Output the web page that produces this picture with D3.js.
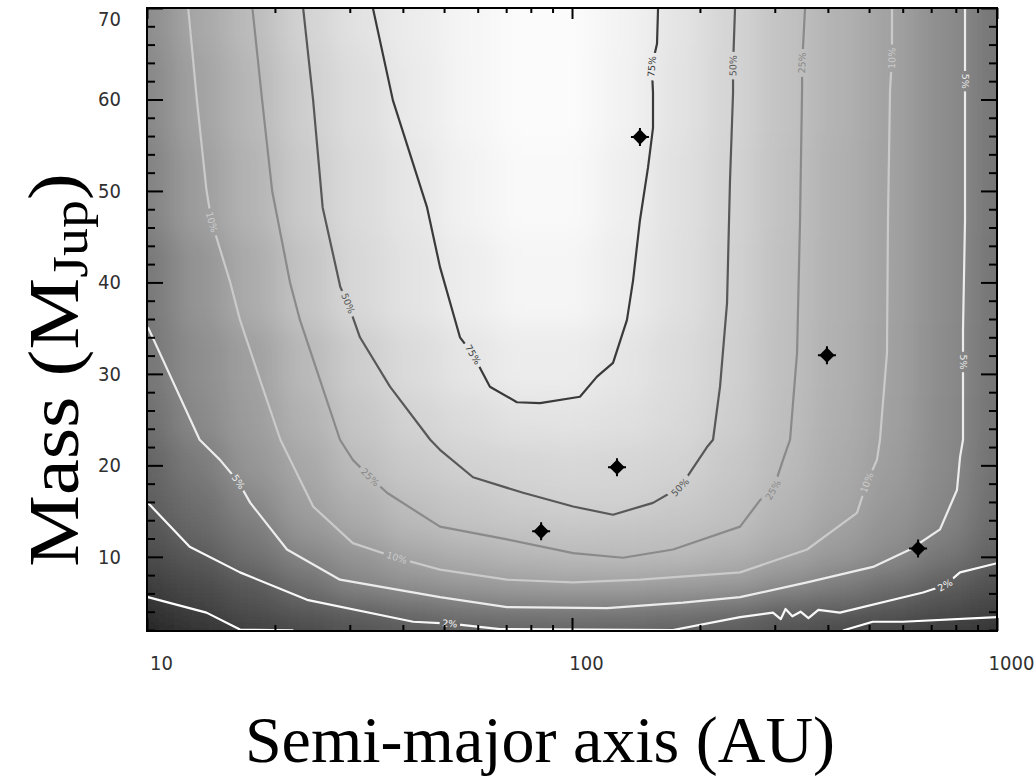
<!DOCTYPE html>
<html>
<head>
<meta charset="utf-8">
<script src="https://cdn.jsdelivr.net/npm/d3@7"></script>
<style>
body { margin: 0; background: #fff; }
</style>
</head>
<body>
<div id="chart"></div>
<script>
// grid nodes of the grey probability map (semi-major axis in AU, mass in MJup)
var gridAU = [10, 13.3, 17.8, 23.7, 31.6, 42.2, 56.2, 75, 100, 133, 178, 237, 316, 422, 562, 750, 1000];
var gridMass = [70, 60, 50, 40, 30, 25, 20, 16, 13, 10, 7, 4, 2];

// grey level (0-255) read at each node, one row per mass
var gridGray = [
	[140, 167, 188, 211, 226, 236, 245, 251, 251, 243, 228, 212, 194, 178, 162, 141, 118],
	[135, 163, 184, 207, 222, 234, 245, 251, 251, 242, 227, 212, 194, 178, 162, 141, 118],
	[130, 158, 180, 203, 219, 230, 242, 249, 249, 239, 225, 211, 193, 177, 162, 141, 118],
	[120, 148, 172, 196, 216, 227, 237, 245, 245, 236, 224, 210, 192, 177, 162, 141, 117],
	[118, 142, 160, 185, 205, 219, 229, 236, 236, 229, 220, 208, 191, 176, 161, 140, 116],
	[110, 137, 157, 178, 198, 211, 220, 226, 227, 224, 217, 206, 190, 175, 160, 139, 115],
	[100, 124, 150, 168, 189, 202, 210, 214, 216, 214, 211, 200, 187, 172, 157, 138, 113],
	[95, 112, 136, 160, 177, 191, 200, 206, 209, 209, 203, 195, 182, 168, 152, 135, 110],
	[85, 103, 124, 150, 167, 183, 192, 196, 198, 196, 194, 189, 176, 161, 146, 130, 105],
	[75, 90, 112, 133, 148, 164, 175, 182, 186, 187, 185, 177, 165, 152, 138, 118, 97],
	[62, 75, 90, 112, 134, 145, 153, 158, 161, 161, 158, 154, 140, 126, 110, 94, 80],
	[48, 64, 80, 90, 98, 108, 118, 122, 122, 122, 118, 110, 97, 94, 88, 78, 66],
	[38, 48, 62, 72, 82, 90, 95, 97, 98, 97, 94, 90, 82, 70, 64, 58, 50]
];

// contour lines, [AU, MJup]
var c75 = [[34.0, 70], [37.9, 59.9], [45.6, 48.2], [48.9, 41.7], [54.5, 34.0], [58.5, 32.1], [64.1, 28.6],
	[74.2, 26.9], [84.1, 26.8], [104.4, 27.5], [114.5, 29.7], [124.9, 31.2], [134.7, 35.9], [139.2, 40.2],
	[144.5, 46.8], [151.0, 52.6], [155.1, 56.9], [155.1, 60.7], [154.1, 63.6], [158.5, 66.1], [159.4, 70]];
var c50 = [[23.3, 70], [24.6, 59.9], [25.9, 48.2], [28.5, 39.5], [29.7, 37.7], [31.7, 34.0], [37.3, 28.6],
	[46.4, 22.8], [48.9, 21.7], [58.5, 18.7], [76.7, 17.0], [100.6, 15.5], [124.9, 14.6], [155.1, 15.9],
	[179.6, 17.6], [207.8, 22.0], [214.7, 22.8], [223.0, 28.6], [231.6, 37.7], [235.4, 51.2], [239.3, 60.7],
	[239.3, 63.7], [241.9, 70]];
var c25 = [[17.7, 70], [18.65, 60], [19.7, 50], [21.7, 40], [22.9, 35.9], [25.25, 30], [28.45, 22.8],
	[30.5, 20.6], [33.5, 18.7], [36.7, 17.0], [48.9, 13.3], [70.3, 11.9], [100.6, 10.4], [131.8, 9.9],
	[172.9, 10.8], [248.6, 13.3], [277, 16.2], [297.1, 17.3], [313.7, 20.6], [325.9, 22.8], [338.5, 32.3],
	[344, 46.8], [347.8, 61], [348, 64], [353.5, 70]];
var c10 = [[12.5, 70], [13.1, 60], [13.8, 50.1], [14.2, 46.6], [15.7, 40], [16.55, 35.9], [18.25, 30],
	[20.6, 22.8], [24.6, 15.5], [30.5, 11.5], [38.7, 9.9], [48.9, 8.6], [70.3, 7.5], [100.6, 7.2],
	[144.5, 7.5], [248.6, 8.3], [357.4, 10.8], [468.3, 14.8], [494, 18.1], [521.8, 20.6], [530.4, 22.8],
	[551, 32.3], [554, 46.8], [560.1, 61], [566, 64.5], [566.2, 70]];
var c5 = [[10.05, 35.1], [13.3, 22.8], [14.85, 20.6], [16.4, 18.2], [17.5, 15.9], [21.35, 10.8], [28.45, 7.5],
	[48.9, 5.6], [70.3, 4.5], [120.9, 4.4], [182.5, 5.0], [248.6, 5.6], [357.4, 7.2], [510.6, 8.9],
	[624.3, 10.8], [734.4, 13.0], [805, 17.3], [818.5, 20.9], [831.8, 22.8], [831.8, 31.3], [831.8, 34.8],
	[840.9, 46.8], [840.9, 59.6], [840.9, 62], [840.9, 70]];
var c2 = [[10.05, 15.9], [12.6, 11.1], [16.55, 8.3], [23.8, 5.3], [42.3, 2.9], [51.6, 2.7], [67.7, 2.1],
	[172.9, 2.0], [248.6, 3.4], [297, 3.9], [310, 3.2], [318, 4.3], [330, 3.5], [345, 4.0], [360, 3.3],
	[380, 4.2], [427, 3.9], [669.8, 6.1], [755, 6.9], [818.5, 8.3], [1000, 9.3]];
var c1 = [[10.05, 5.6], [13.8, 3.9], [16.55, 2.05], [22.1, 1.95], null,
	[434, 1.95], [510, 2.9], [600, 2.9], [1000, 3.4]];

// which point of each contour carries a label
var labels75 = [5, 18];
var labels50 = [4, 14, 21];
var labels25 = [8, 17, 23];
var labels10 = [3, 10, 18, 24];
var labels5 = [3, 19, 23];
var labels2 = [5, 18];
var labels1 = [];

var levelNames = ["75%", "50%", "25%", "10%", "5%", "2%", "1%"];
var levelColors = ["#3a3a3a", "#585858", "#8a8a8a", "#cacaca", "#ececec", "#f8f8f8", "#ffffff"];

// detected companions
var planetAU = [144.5, 398, 127.6, 84.6, 652];
var planetMass = [55.9, 32.05, 19.8, 12.8, 10.9];

// axis ticks
var xMajor = [10, 100, 1000];
var xMinor = [20, 30, 40, 50, 60, 70, 80, 90, 200, 300, 400, 500, 600, 700, 800, 900];
var yMajor = [10, 20, 30, 40, 50, 60, 70];
var yMinor = [2, 4, 6, 8, 12, 14, 16, 18, 22, 24, 26, 28, 32, 34, 36, 38, 42, 44, 46, 48, 52, 54, 56, 58, 62, 64, 66, 68];

// plot box in pixels
var boxLeft = 147, boxRight = 997, boxTop = 8, boxBottom = 631;

var x = d3.scaleLog().domain([10, 1000]).range([boxLeft, boxRight]);
var y = d3.scaleLinear().domain([2, 70]).range([630, boxTop]);

var svg = d3.select("#chart").append("svg")
	.attr("width", 1034)
	.attr("height", 780);

var defs = svg.append("defs");

defs.append("clipPath").attr("id", "plotClip")
	.append("rect")
	.attr("x", boxLeft).attr("y", boxTop)
	.attr("width", boxRight - boxLeft).attr("height", boxBottom - boxTop);

// soften the cell grid into a smooth shade
defs.append("filter").attr("id", "soften")
	.attr("filterUnits", "userSpaceOnUse")
	.attr("x", 0).attr("y", -80).attr("width", 1034).attr("height", 800)
	.append("feGaussianBlur").attr("stdDeviation", "16 13");

/**
 * edges of the cells around each node, in pixels
 */
function cellEdges(px, pad)
{
	var edges = [];
	for (var i = 0; i < px.length; i++) {
		var a = i === 0 ? px[0] - pad * Math.sign(px[1] - px[0]) : (px[i - 1] + px[i]) / 2;
		var b = i === px.length - 1 ? px[i] + pad * Math.sign(px[i] - px[i - 1]) : (px[i] + px[i + 1]) / 2;
		edges.push([Math.min(a, b), Math.max(a, b)]);
	}
	return edges;
}

var colEdges = cellEdges(gridAU.map(x), 50);
var rowEdges = cellEdges(gridMass.map(y), 50);

var cells = [];
gridGray.forEach(function (row, j) {
	row.forEach(function (v, i) {
		cells.push({ i: i, j: j, v: v });
	});
});

var shade = svg.append("g").attr("clip-path", "url(#plotClip)")
	.append("g").attr("filter", "url(#soften)");

shade.selectAll("rect")
	.data(cells)
	.enter().append("rect")
	.attr("x", function (d) { return colEdges[d.i][0]; })
	.attr("y", function (d) { return rowEdges[d.j][0]; })
	.attr("width", function (d) { return colEdges[d.i][1] - colEdges[d.i][0] + 0.5; })
	.attr("height", function (d) { return rowEdges[d.j][1] - rowEdges[d.j][0] + 0.5; })
	.attr("fill", function (d) { return d3.rgb(d.v, d.v, d.v); });

// contour table built from the arrays above
var contourLines = [c75, c50, c25, c10, c5, c2, c1];
var contourLabels = [labels75, labels50, labels25, labels10, labels5, labels2, labels1];

var spots = [];
contourLines.forEach(function (pts, k) {
	contourLabels[k].forEach(function (idx) {
		var p = pts[idx], a = pts[idx - 1] || p, b = pts[idx + 1] || p;
		var ang = Math.atan2(y(b[1]) - y(a[1]), x(b[0]) - x(a[0])) * 180 / Math.PI;
		if (ang > 90) ang -= 180;
		if (ang <= -90) ang += 180;
		spots.push({ k: k, x: x(p[0]), y: y(p[1]), ang: ang });
	});
});

// gaps in the lines where the labels sit
var mask = defs.append("mask").attr("id", "labelGaps")
	.attr("maskUnits", "userSpaceOnUse")
	.attr("x", 0).attr("y", 0).attr("width", 1034).attr("height", 780);
mask.append("rect").attr("width", 1034).attr("height", 780).attr("fill", "#fff");
mask.selectAll("rect.gap")
	.data(spots)
	.enter().append("rect")
	.attr("class", "gap")
	.attr("x", function (d) { return -levelNames[d.k].length * 3.6 - 3; })
	.attr("y", -6)
	.attr("width", function (d) { return levelNames[d.k].length * 7.2 + 6; })
	.attr("height", 12)
	.attr("transform", function (d) { return "translate(" + d.x + "," + d.y + ") rotate(" + d.ang + ")"; })
	.attr("fill", "#000");

var line = d3.line()
	.defined(function (d) { return d !== null; })
	.x(function (d) { return x(d[0]); })
	.y(function (d) { return y(d[1]); });

var plot = svg.append("g").attr("clip-path", "url(#plotClip)");

plot.append("g").attr("mask", "url(#labelGaps)")
	.selectAll("path")
	.data(contourLines)
	.enter().append("path")
	.attr("d", line)
	.attr("fill", "none")
	.attr("stroke", function (d, k) { return levelColors[k]; })
	.attr("stroke-width", 2.2)
	.attr("stroke-linejoin", "round");

plot.selectAll("text.level")
	.data(spots)
	.enter().append("text")
	.attr("class", "level")
	.attr("transform", function (d) { return "translate(" + d.x + "," + d.y + ") rotate(" + d.ang + ")"; })
	.attr("text-anchor", "middle")
	.attr("dy", "0.35em")
	.attr("font-family", "DejaVu Sans")
	.attr("font-size", 9.5)
	.attr("fill", function (d) { return levelColors[d.k]; })
	.text(function (d) { return levelNames[d.k]; });

// companions: filled diamonds with a small cross
var marks = plot.selectAll("g.planet")
	.data(planetAU)
	.enter().append("g")
	.attr("class", "planet")
	.attr("transform", function (d, i) { return "translate(" + x(d) + "," + y(planetMass[i]) + ")"; });
marks.append("path")
	.attr("d", d3.symbol().type(d3.symbolSquare).size(118))
	.attr("transform", "rotate(45)")
	.attr("fill", "#000");
marks.append("path")
	.attr("d", "M-9,0H9M0,-9V9")
	.attr("stroke", "#000")
	.attr("stroke-width", 2);

// axes: inward ticks on all four sides
function styleAxis(g)
{
	g.select(".domain").remove();
	g.selectAll(".tick line").attr("stroke", "#000").attr("stroke-width", 2);
	g.attr("font-family", "DejaVu Sans Condensed").attr("font-size", 20);
	g.selectAll("text").attr("fill", "#303030");
}

svg.append("g").attr("transform", "translate(0," + boxBottom + ")")
	.call(d3.axisBottom(x).tickValues(xMajor).tickSize(-13).tickPadding(25).tickFormat(d3.format("d")))
	.call(styleAxis)
	.selectAll("text").attr("dx", 14);
svg.append("g").attr("transform", "translate(0," + boxBottom + ")")
	.call(d3.axisBottom(x).tickValues(xMinor).tickSize(-6).tickFormat(""))
	.call(styleAxis);
svg.append("g").attr("transform", "translate(0," + boxTop + ")")
	.call(d3.axisTop(x).tickValues(xMajor).tickSize(-11).tickFormat(""))
	.call(styleAxis);
svg.append("g").attr("transform", "translate(0," + boxTop + ")")
	.call(d3.axisTop(x).tickValues(xMinor).tickSize(-5).tickFormat(""))
	.call(styleAxis);

// the label at the top tick is pushed down inside the figure
svg.append("g").attr("transform", "translate(" + boxLeft + ",0)")
	.call(d3.axisLeft(y).tickValues(yMajor).tickSize(-16).tickPadding(26).tickFormat(d3.format("d")))
	.call(styleAxis)
	.selectAll("text")
	.attr("dy", function (d) { return y(d) < boxTop + 14 ? (boxTop + 17 - y(d)) + "px" : "0.32em"; })
	.attr("dx", 0);
svg.append("g").attr("transform", "translate(" + boxLeft + ",0)")
	.call(d3.axisLeft(y).tickValues(yMinor).tickSize(-8).tickFormat(""))
	.call(styleAxis);
svg.append("g").attr("transform", "translate(" + boxRight + ",0)")
	.call(d3.axisRight(y).tickValues(yMajor).tickSize(-16).tickFormat(""))
	.call(styleAxis);
svg.append("g").attr("transform", "translate(" + boxRight + ",0)")
	.call(d3.axisRight(y).tickValues(yMinor).tickSize(-8).tickFormat(""))
	.call(styleAxis);

// frame
svg.append("rect")
	.attr("x", boxLeft).attr("y", boxTop)
	.attr("width", boxRight - boxLeft).attr("height", boxBottom - boxTop)
	.attr("fill", "none")
	.attr("stroke", "#000")
	.attr("stroke-width", 2);

// axis titles
svg.append("text")
	.attr("x", 540).attr("y", 762)
	.attr("text-anchor", "middle")
	.attr("font-family", "Liberation Serif")
	.attr("font-size", 66)
	.attr("fill", "#000")
	.text("Semi-major axis (AU)");

var yTitle = svg.append("text")
	.attr("transform", "translate(78,370) rotate(-90) scale(1.12,1)")
	.attr("text-anchor", "middle")
	.attr("font-family", "Liberation Serif")
	.attr("font-size", 72)
	.attr("fill", "#000");
yTitle.append("tspan").text("Mass (M");
yTitle.append("tspan").attr("font-size", 50).attr("dy", 9).text("Jup");
yTitle.append("tspan").attr("dy", -9).text(")");
</script>
</body>
</html>
